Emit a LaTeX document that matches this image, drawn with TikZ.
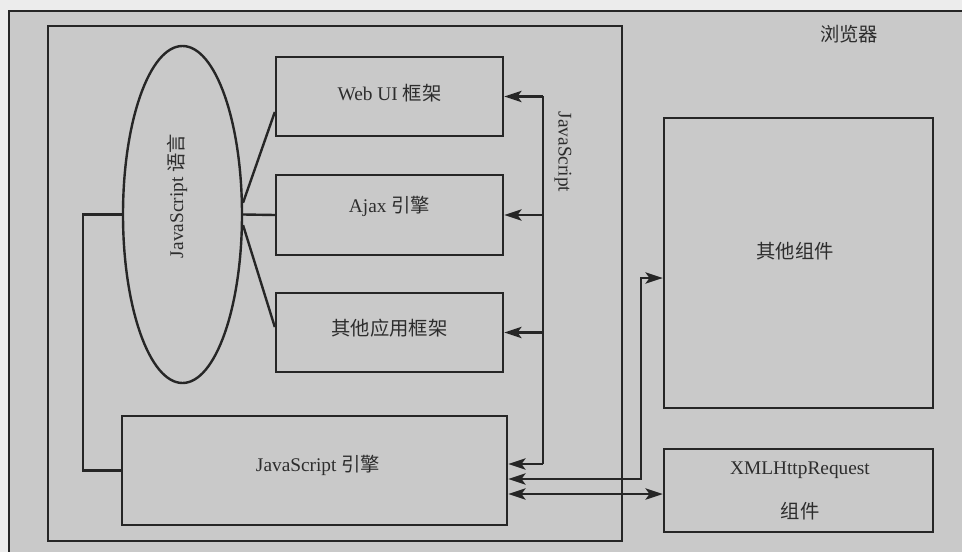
\documentclass[tikz,border=0pt]{standalone}
\usepackage{fontspec}
\setmainfont{Liberation Serif}
\newfontfamily\cjk{Noto Sans CJK SC}
\usetikzlibrary{arrows.meta,shapes.geometric,calc}
\definecolor{bgpaper}{RGB}{236,236,236}
\definecolor{bggray}{RGB}{201,201,201}
\definecolor{ink}{RGB}{38,38,38}
\definecolor{txt}{RGB}{45,45,45}
\begin{document}
\begin{tikzpicture}[x=0.75pt,y=-0.75pt,
  line width=1.8pt,
  every node/.style={text=txt,font=\fontsize{14.5}{17}\selectfont},
  box/.style={draw=ink,rectangle,inner sep=0pt,align=center},
  arr/.style={draw=ink,-{Stealth[length=13pt,width=8.5pt,inset=3pt]}},
  darr/.style={draw=ink,{Stealth[length=13pt,width=8.5pt,inset=3pt]}-{Stealth[length=13pt,width=8.5pt,inset=3pt]}},
  conn/.style={draw=ink}]
\useasboundingbox (0,0) rectangle (962,552);
\fill[bgpaper] (0,0) rectangle (962,552);
\fill[bggray] (9,11) rectangle (962,552);
\draw[ink] (9,552) -- (9,11) -- (962,11);
\node[text=txt] (browser) at (849,34) {\cjk 浏览器};
% inner JavaScript frame
\draw[ink] (48,26) rectangle (622,541);
% ellipse
\node[draw=ink,ellipse,minimum width=89.25pt,minimum height=252.75pt,inner sep=0pt] (lang) at (182.5,214.5) {};
\node[rotate=90] (langtxt) at (177,196) {JavaScript {\cjk 语言}};
% boxes
\node[box,minimum width=170.25pt,minimum height=59.25pt] (web) at (389.5,96.5) {};
\node (webtxt) at (389.5,93) {Web UI {\cjk 框架}};
\node[box,minimum width=170.25pt,minimum height=60pt] (ajax) at (389.5,215) {};
\node (ajaxtxt) at (389.5,206) {Ajax {\cjk 引擎}};
\node[box,minimum width=170.25pt,minimum height=59.25pt] (other) at (389.5,332.5) {};
\node (othertxt) at (389.5,328) {\cjk 其他应用框架};
\node[box,minimum width=288.75pt,minimum height=81.75pt] (engine) at (314.5,470.5) {};
\node (enginetxt) at (318,465) {JavaScript {\cjk 引擎}};
\node[box,minimum width=201.75pt,minimum height=217.5pt] (comp) at (798.5,263) {};
\node (comptxt) at (795,251) {\cjk 其他组件};
\node[box,minimum width=201.75pt,minimum height=62.25pt] (xhr) at (798.5,490.5) {};
\node (xhrtxt) at (800,470) {XMLHttpRequest};
\node (xhrtxt2) at (800,511) {\cjk 组件};
% ellipse to boxes
\draw[conn] (lang.11) -- ($(web.west)+(0,15.5)$);
\draw[conn] (lang.east) -- (ajax.west);
\draw[conn] (lang.-10) -- ($(other.west)+(0,-5.5)$);
\draw[conn] (lang.west) -- ++(-39,0) |- (engine.west);
% JavaScript bus
\coordinate (bus) at (543,0);
\coordinate (e1) at ($(engine.east)+(0,-6.5)$);
\draw[conn] (web.east -| bus) -- (e1 -| bus);
\draw[arr] (web.east -| bus) -- (web.east);
\draw[arr] (ajax.east -| bus) -- (ajax.east);
\draw[arr] (other.east -| bus) -- (other.east);
\draw[arr] (e1 -| bus) -- (e1);
\node[rotate=-90] (buslabel) at (563,152) {JavaScript};
% engine to components
\coordinate (e2) at ($(engine.east)+(0,8.5)$);
\coordinate (c2) at ($(comp.west)+(0,15)$);
\draw[darr] (e2) -| ($(c2)+(-22,0)$) -- (c2);
\coordinate (e3) at ($(engine.east)+(0,23.5)$);
\draw[darr] (e3) -- (e3 -| xhr.west);
\end{tikzpicture}
\end{document}
